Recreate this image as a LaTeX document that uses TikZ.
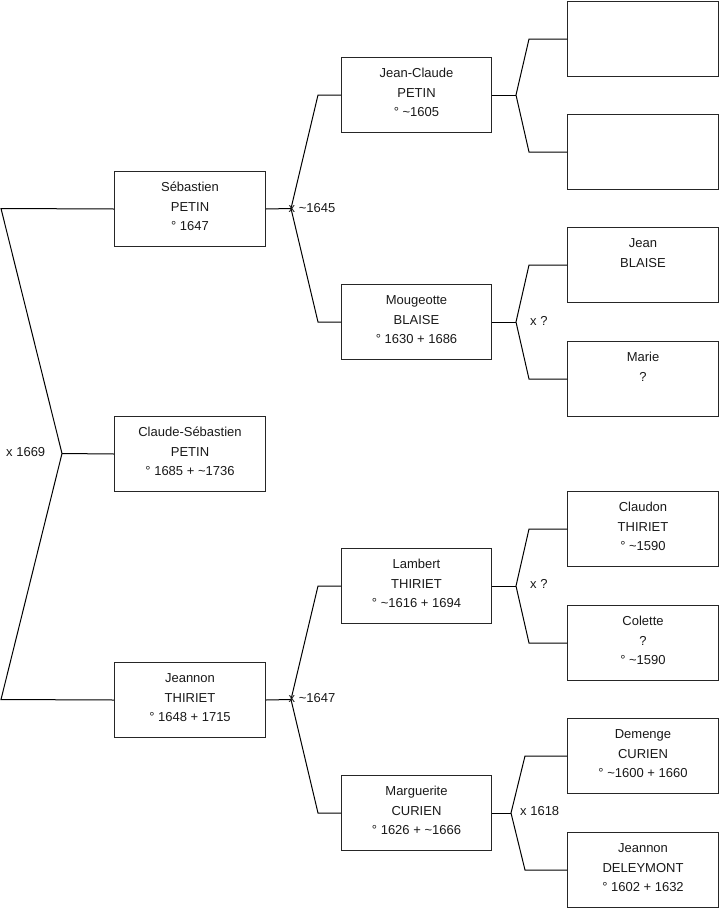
\documentclass[tikz,border=0pt]{standalone}
\usepackage{fontspec}
\setmainfont{Liberation Sans}
\tikzset{
  pbox/.style={draw=black!85, line width=1pt, minimum width=151pt, minimum height=75pt, anchor=north west, inner sep=0pt},
  ptxt/.style={anchor=north, inner sep=0pt, align=center, text=black!90, font=\fontsize{13}{19.75}\selectfont},
  lab/.style={anchor=west, inner sep=0pt, text=black!90, font=\fontsize{13}{15}\selectfont},
  conn/.style={line width=1pt, draw=black}
}
\newcommand\pers[4]{\node[pbox] (#1) at (#2,#3) {}; \node[ptxt] (#1t) at ([yshift=-6.4pt]#1.north) {\strut #4};}
\begin{document}
\begin{tikzpicture}[x=1pt,y=-1pt]
\useasboundingbox (0,0) rectangle (719,908);
% level 1
\pers{seb}{114}{171}{Sébastien\\PETIN\\° 1647}
\pers{cla}{114}{416}{Claude-Sébastien\\PETIN\\° 1685 + \textasciitilde 1736}
\pers{jea}{114}{662}{Jeannon\\THIRIET\\° 1648 + 1715}
% level 2
\begin{scope}[pbox/.append style={minimum width=150pt}]
\pers{jc}{341}{57}{Jean-Claude\\PETIN\\° \textasciitilde 1605}
\pers{mou}{341}{284}{Mougeotte\\BLAISE\\° 1630 + 1686}
\pers{lam}{341}{548}{Lambert\\THIRIET\\° \textasciitilde 1616 + 1694}
\pers{mar}{341}{775}{Marguerite\\CURIEN\\° 1626 + \textasciitilde 1666}
\end{scope}
% level 3
\node[pbox] (e1) at (567,1) {};
\node[pbox] (e2) at (567,114) {};
\pers{jn}{567}{227}{Jean\\BLAISE}
\pers{mr}{567}{341}{Marie\\?}
\pers{cld}{567}{491}{Claudon\\THIRIET\\° \textasciitilde 1590}
\pers{col}{567}{605}{Colette\\?\\° \textasciitilde 1590}
\pers{dem}{567}{718}{Demenge\\CURIEN\\° \textasciitilde 1600 + 1660}
\pers{dly}{567}{832}{Jeannon\\DELEYMONT\\° 1602 + 1632}
% fork 0
\coordinate (v0) at (62,453.5);
\coordinate (a0) at (1,208.5);
\coordinate (b0) at (1,699.5);
\draw[conn] (seb.west) -- (a0) -- (v0) -- (b0) -- (jea.west);
\draw[conn] (v0) -- (cla.west);
\node[lab] (l0) at (6,452) {x 1669};
% fork 1
\coordinate (v1) at (291,208.5);
\draw[conn] (seb.east) -- (v1);
\draw[conn] (jc.west) -- ([xshift=-23pt]jc.west) -- (v1) -- ([xshift=-23pt]mou.west) -- (mou.west);
\node[lab] (l1) at (288.5,208) {x \textasciitilde 1645};
% fork 2
\coordinate (v2) at ([xshift=24pt]jc.east);
\draw[conn] (jc.east) -- (v2);
\draw[conn] (e1.west) -- ([xshift=-38pt]e1.west) -- (v2) -- ([xshift=-38pt]e2.west) -- (e2.west);
% fork 3
\coordinate (v3) at ([xshift=24pt]mou.east);
\draw[conn] (mou.east) -- (v3);
\draw[conn] (jn.west) -- ([xshift=-38pt]jn.west) -- (v3) -- ([xshift=-38pt]mr.west) -- (mr.west);
\node[lab] (l3) at (530,320.5) {x ?};
% fork 4
\coordinate (v4) at (291,699.5);
\draw[conn] (jea.east) -- (v4);
\draw[conn] (lam.west) -- ([xshift=-23pt]lam.west) -- (v4) -- ([xshift=-23pt]mar.west) -- (mar.west);
\node[lab] (l4) at (288.5,698.5) {x \textasciitilde 1647};
% fork 5
\coordinate (v5) at ([xshift=24pt]lam.east);
\draw[conn] (lam.east) -- (v5);
\draw[conn] (cld.west) -- ([xshift=-38pt]cld.west) -- (v5) -- ([xshift=-38pt]col.west) -- (col.west);
\node[lab] (l5) at (530,583.5) {x ?};
% fork 6
\coordinate (v6) at ([xshift=19pt]mar.east);
\draw[conn] (mar.east) -- (v6);
\draw[conn] (dem.west) -- ([xshift=-42pt]dem.west) -- (v6) -- ([xshift=-42pt]dly.west) -- (dly.west);
\node[lab] (l6) at (520,811) {x 1618};
\end{tikzpicture}
\end{document}
